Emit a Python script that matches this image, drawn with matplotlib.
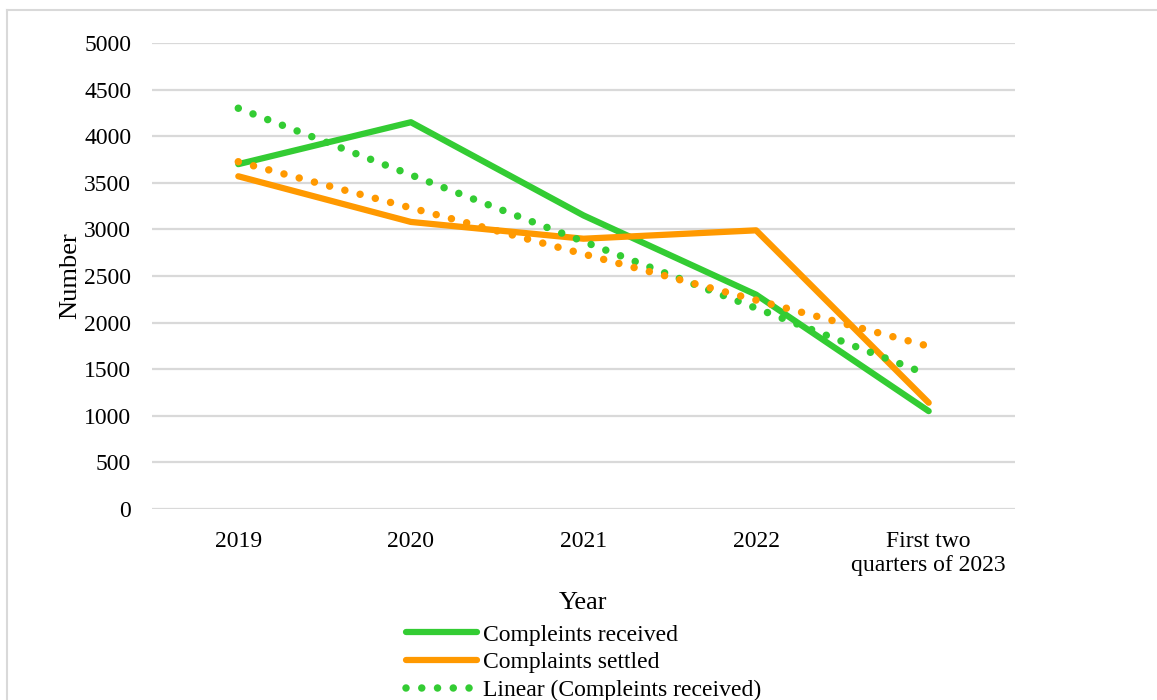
import numpy as np
import matplotlib
matplotlib.use("Agg")
import matplotlib.pyplot as plt
from matplotlib.lines import Line2D

years = ["2019", "2020", "2021", "2022", "First two\nquarters of 2023"]
received = [3700, 4150, 3150, 2300, 1050]
settled = [3570, 3080, 2900, 2990, 1140]
yticks = [0, 500, 1000, 1500, 2000, 2500, 3000, 3500, 4000, 4500, 5000]

GREEN = "#33CC33"
ORANGE = "#FF9900"
GRID = "#D9D9D9"

plt.rcParams["font.family"] = ["Liberation Serif", "DejaVu Serif"]
plt.rcParams["font.size"] = 17

fig = plt.figure(figsize=(11.57, 7.0), dpi=100)
ax = fig.add_axes([152 / 1157, 1 - 509 / 700, (1015 - 152) / 1157, (509 - 43) / 700])

x = np.arange(1, len(years) + 1)

# linear trendlines fitted to each series
rec_fit = np.polyval(np.polyfit(x, received, 1), x)
set_fit = np.polyval(np.polyfit(x, settled, 1), x)

DOTS = (0, (0.001, 2.1))
ln_rec, = ax.plot(x, received, color=GREEN, lw=4.5, solid_joinstyle="round",
                  solid_capstyle="round", label="Compleints received", zorder=3)
ln_set, = ax.plot(x, settled, color=ORANGE, lw=4.5, solid_joinstyle="round",
                  solid_capstyle="round", label="Complaints settled", zorder=3)
tr_rec, = ax.plot(x, rec_fit, color=GREEN, lw=5.4, linestyle=DOTS,
                  dash_capstyle="round", label="Linear (Compleints received)", zorder=4)
tr_set, = ax.plot(x, set_fit, color=ORANGE, lw=5.4, linestyle=DOTS,
                  dash_capstyle="round", label="Linear (Complaints settled)", zorder=4)

ax.set_xlim(0.5, len(years) + 0.5)
ax.set_ylim(0, 5000)
ax.set_xticks(x)
ax.set_xticklabels(years, linespacing=1.2)
ax.set_yticks(yticks)
ax.tick_params(axis="both", length=0, colors="black")
ax.tick_params(axis="y", pad=15)
ax.tick_params(axis="x", pad=16)
ax.grid(axis="y", color=GRID, lw=1.6)
ax.set_axisbelow(True)
for s in ax.spines.values():
    s.set_visible(False)

ax.set_ylabel("Number", fontsize=19, labelpad=2)
fig.text(583 / 1157, 1 - 603 / 700, "Year", ha="center", va="center", fontsize=19)

fig.legend(handles=[ln_rec, ln_set, tr_rec], loc="upper left",
           bbox_to_anchor=(406 / 1157, 1 - 624 / 700), frameon=False,
           handlelength=3.0, handletextpad=0.25, labelspacing=0.27,
           borderaxespad=0, borderpad=0, fontsize=17)

# chart area outline
fig.add_artist(Line2D([7 / 1157, 7 / 1157], [-0.01, 1 - 10 / 700],
                      transform=fig.transFigure, color=GRID, lw=1.5))
fig.add_artist(Line2D([7 / 1157, 1.01], [1 - 10 / 700, 1 - 10 / 700],
                      transform=fig.transFigure, color=GRID, lw=1.5))

fig.savefig("out.png", dpi=100)
